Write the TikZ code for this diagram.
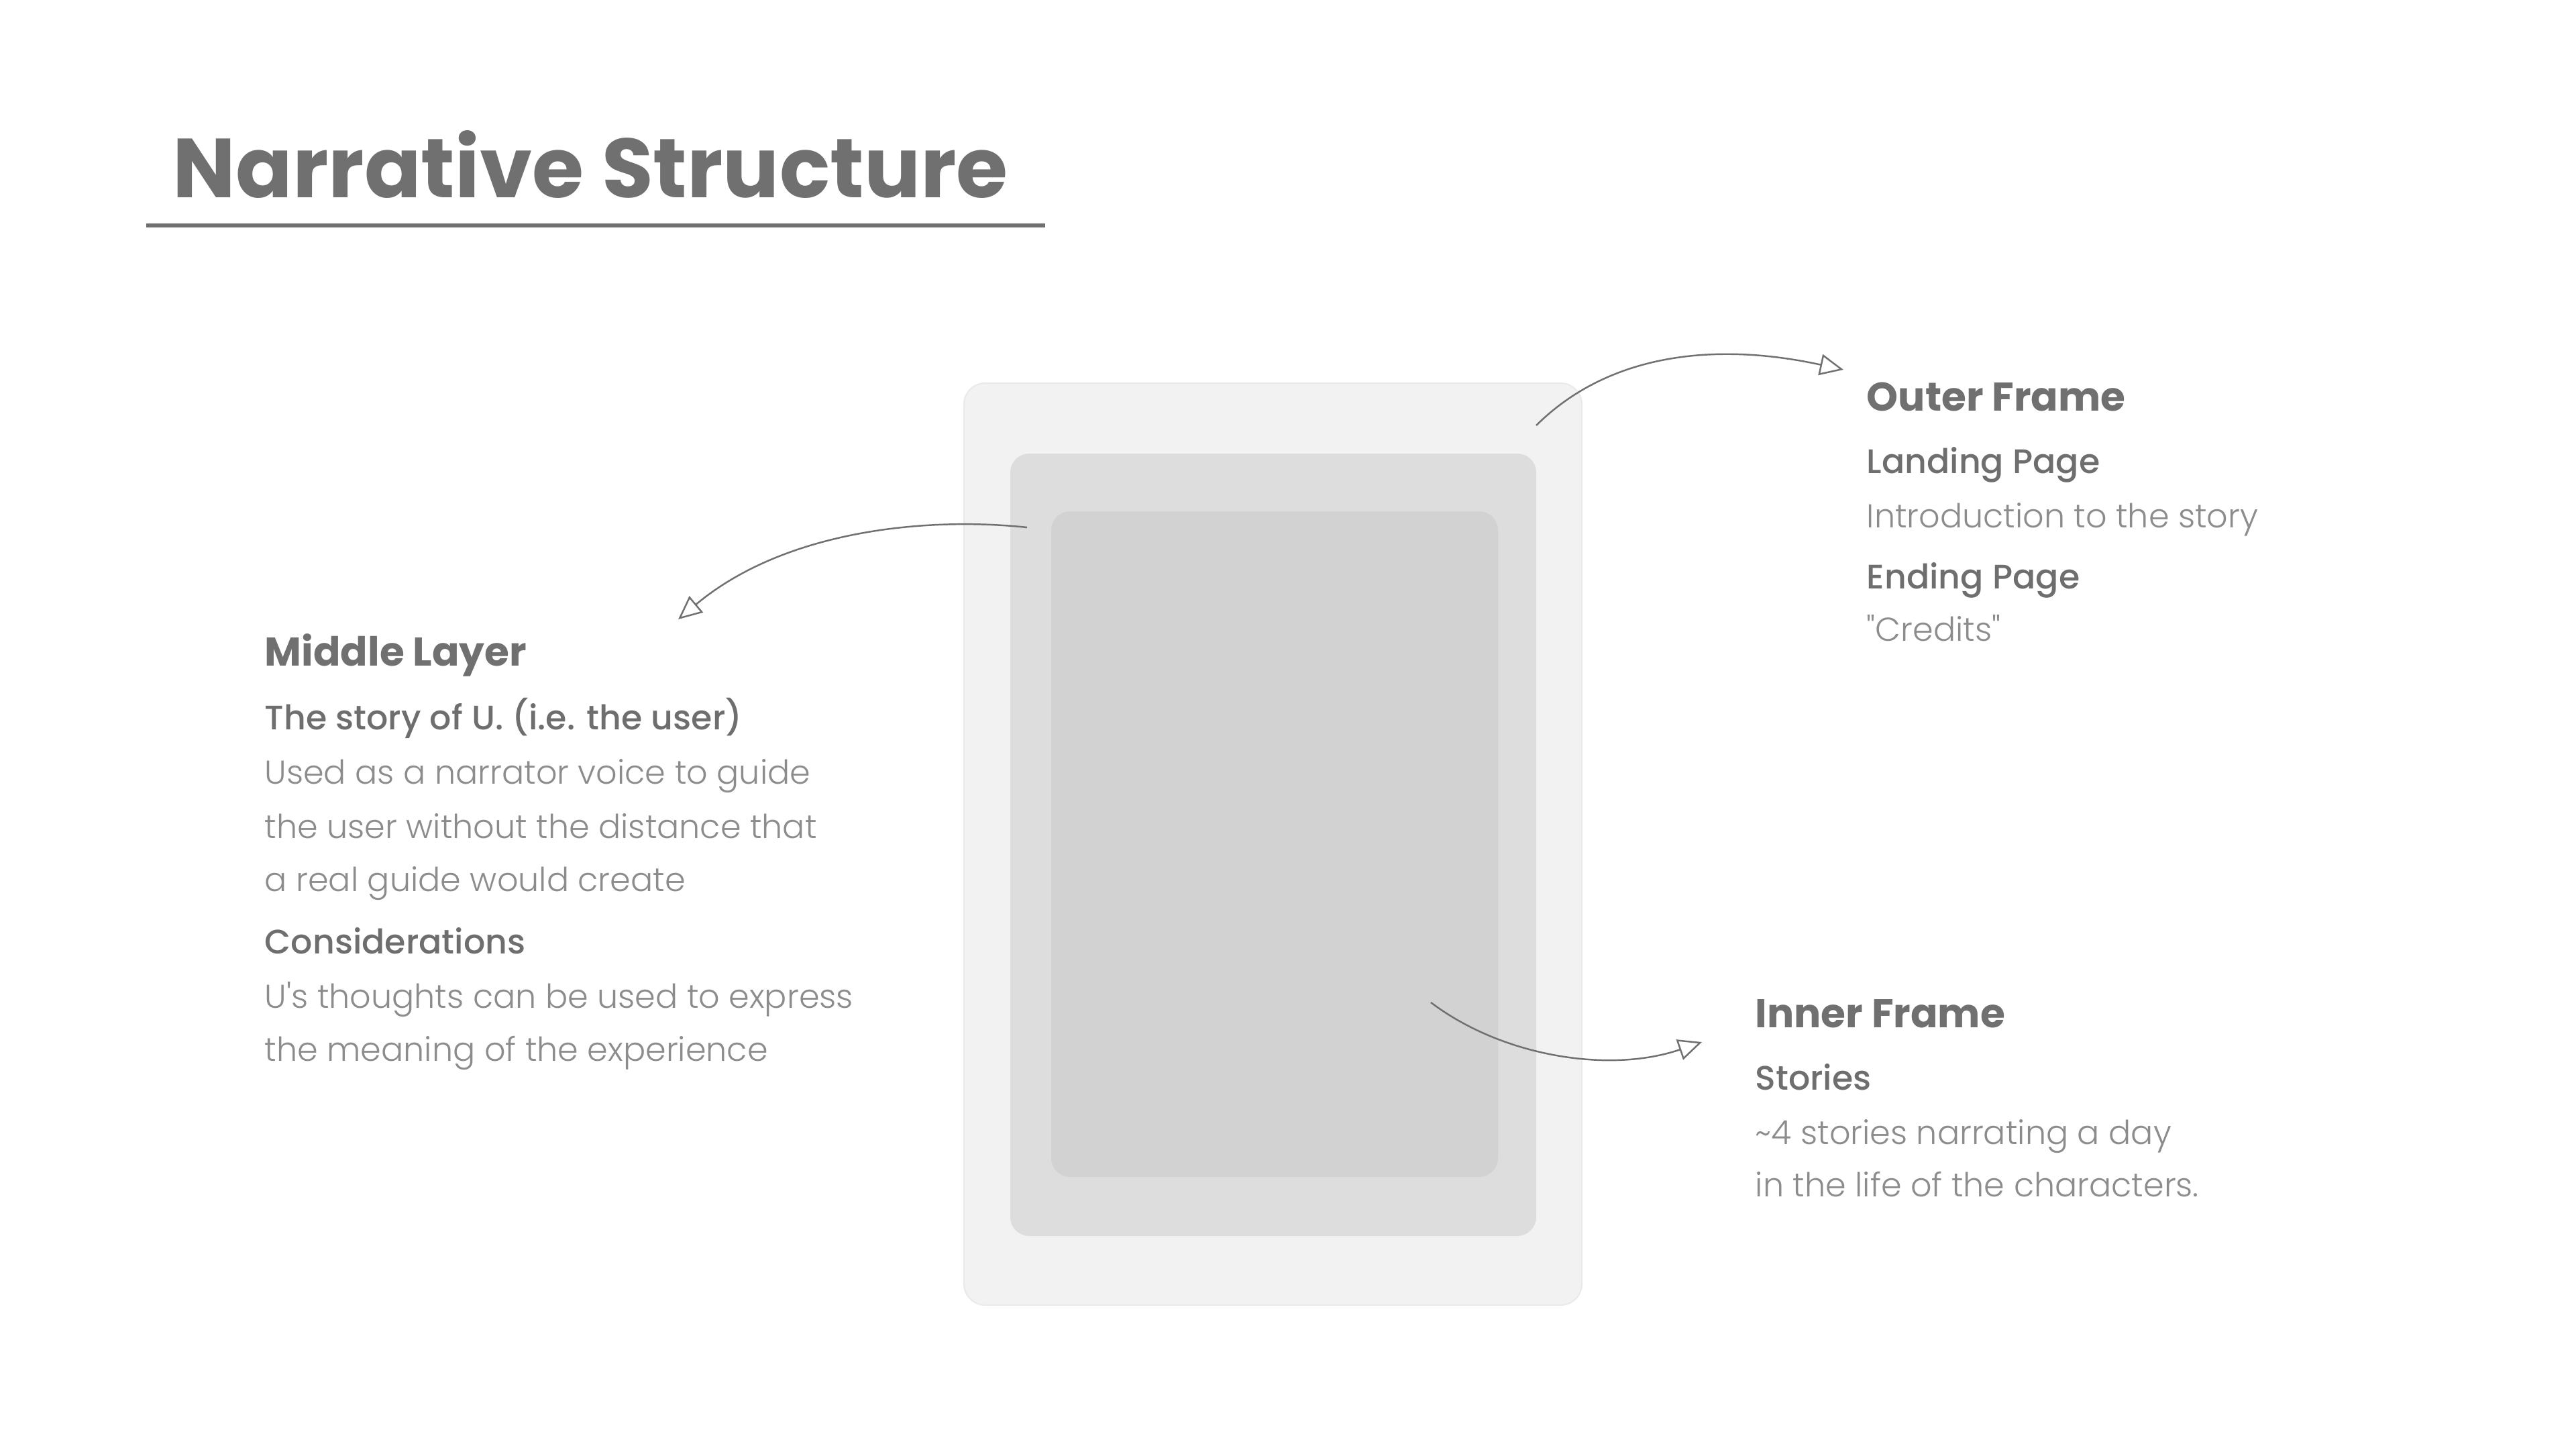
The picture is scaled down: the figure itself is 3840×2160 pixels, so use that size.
\documentclass[tikz,border=0pt]{standalone}
\usepackage{fontspec}
\setmainfont{Poppins}
\IfFontExistsTF{Poppins Light}{\newfontfamily\lightfont{Poppins Light}}{\newfontfamily\lightfont{Poppins}}
\IfFontExistsTF{Poppins Medium}{\newfontfamily\mediumfont{Poppins Medium}}{\newfontfamily\mediumfont{Poppins}}
\usetikzlibrary{arrows.meta, positioning}
\definecolor{titlegray}{RGB}{112,112,112}
\definecolor{subgray}{RGB}{110,110,110}
\definecolor{textgray}{RGB}{140,140,140}
\definecolor{outerfill}{RGB}{242,242,242}
\definecolor{outerline}{RGB}{234,234,234}
\definecolor{middlefill}{RGB}{221,221,221}
\definecolor{innerfill}{RGB}{210,210,210}

\begin{document}
\begin{tikzpicture}[
  x=0.01cm, y=-0.01cm,
  title/.style={font=\fontsize{35.5}{42}\selectfont\bfseries, text=titlegray, anchor=base west, inner sep=0pt},
  head/.style={font=\fontsize{17}{21}\selectfont\bfseries, text=titlegray, anchor=base west, inner sep=0pt},
  sub/.style={font=\mediumfont\fontsize{14.4}{17}\selectfont, text=subgray, anchor=base west, inner sep=0pt},
  body/.style={font=\lightfont\fontsize{14}{17}\selectfont, text=textgray, anchor=base west, inner sep=0pt},
  pointer/.style={draw=titlegray, line width=0.7pt, -{Triangle[open, length=10pt, width=9pt, fill=white]}}
]
\useasboundingbox (0,0) rectangle (3840,2160);
\fill[white] (0,0) rectangle (3840,2160);

% Title
\node[title] (title) at (257,294) {Narrative Structure};
\draw[titlegray, line width=1.7pt] (218,336) -- (1558,336);

% Nested frames
\filldraw[fill=outerfill, draw=outerline, line width=0.6pt, rounded corners=9pt] (1437,571) rectangle (2358,1945);
\fill[middlefill, rounded corners=8pt] (1506,676) rectangle (2290,1842);
\fill[innerfill, rounded corners=8pt] (1567,762) rectangle (2233,1754);

% Arrow ends
\coordinate (outerstart) at (2290,634);
\coordinate (outertip) at (2748,551);
\coordinate (middlestart) at (1531,786);
\coordinate (middletip) at (1011,923);
\coordinate (innerstart) at (2133,1494);
\coordinate (innertip) at (2537,1553);

% Outer frame text
\node[head] (outerhead) at (2782,612) {Outer Frame};
\node[below=0.93cm of outerhead.base west, sub] (landing) {Landing Page};
\node[below=0.81cm of landing.base west, body] (intro) {Introduction to the story};
\node[below=0.91cm of intro.base west, sub] (ending) {Ending Page};
\node[below=0.78cm of ending.base west, body] (credits) {"Credits"};

% Middle layer text
\node[head] (middlehead) at (394,992) {Middle Layer};
\node[below=0.95cm of middlehead.base west, sub] (storyu) {The story of U. (i.e. the user)};
\node[below=0.81cm of storyu.base west, body] (usedas) {Used as a narrator voice to guide};
\node[below=0.81cm of usedas.base west, body] (without) {the user without the distance that};
\node[below=0.79cm of without.base west, body] (realguide) {a real guide would create};
\node[below=0.93cm of realguide.base west, sub] (consid) {Considerations};
\node[below=0.81cm of consid.base west, body] (thoughts) {U's thoughts can be used to express};
\node[below=0.79cm of thoughts.base west, body] (meaning) {the meaning of the experience};

% Inner frame text
\node[head] (innerhead) at (2616,1531) {Inner Frame};
\node[below=0.93cm of innerhead.base west, sub] (stories) {Stories};
\node[below=0.81cm of stories.base west, body] (fourstories) {\textasciitilde4 stories narrating a day};
\node[below=0.78cm of fourstories.base west, body] (lifeof) {in the life of the characters.};

% Curved pointers
\draw[pointer] (outerstart) .. controls (2400,525) and (2560,510) .. (outertip);
\draw[pointer] (middlestart) .. controls (1381,770) and (1170,790) .. (middletip);
\draw[pointer] (innerstart) .. controls (2240,1575) and (2400,1600) .. (innertip);
\end{tikzpicture}
\end{document}
